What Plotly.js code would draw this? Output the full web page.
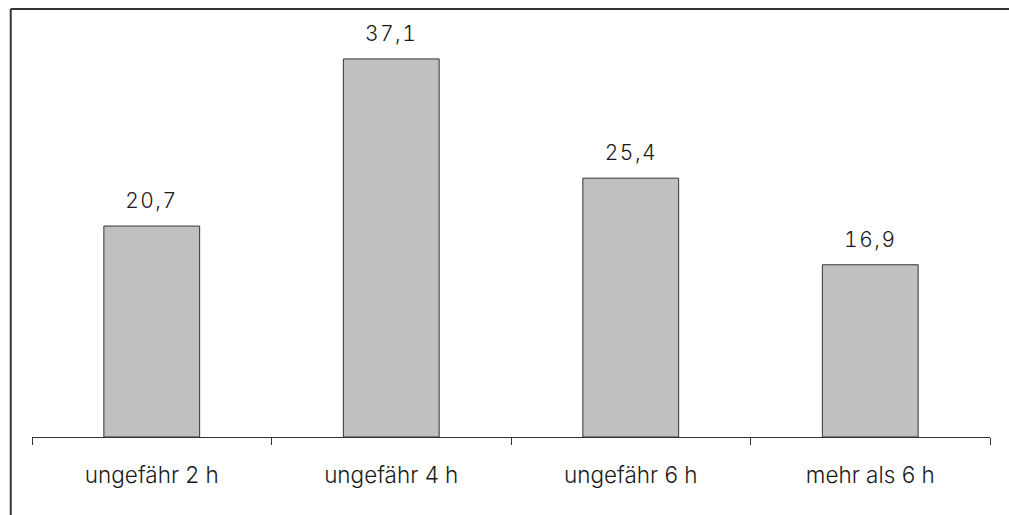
<!DOCTYPE html>
<html>
<head>
<meta charset="utf-8">
<script src="https://cdn.plot.ly/plotly-3.0.1.min.js"></script>
<style>
html,body{margin:0;padding:0;background:#fff;}
#chart{width:1009px;height:515px;}
#chart .annotation-text{font-feature-settings:"tnum";letter-spacing:1.5px;}
</style>
</head>
<body>
<div id="chart"></div>
<script>
const categories = ["ungefähr 2 h", "ungefähr 4 h", "ungefähr 6 h", "mehr als 6 h"];
const values = [20.7, 37.1, 25.4, 16.9];
const valueLabels = ["20,7", "37,1", "25,4", "16,9"];

const FONT = "Inter, 'Liberation Sans', Arial, sans-serif";

const trace = {
  type: "bar",
  x: categories,
  y: values,
  marker: {color: "#c0c0c0", line: {color: "#333333", width: 1}},
  hoverinfo: "none"
};

const annotations = categories.map((c, i) => ({
  x: c, y: values[i], xref: "x", yref: "y",
  text: valueLabels[i], showarrow: false,
  yanchor: "bottom", yshift: 11,
  font: {family: FONT, size: 21, color: "#1a1a1a", weight: 300}
}));

const layout = {
  width: 1009, height: 515,
  margin: {l: 32, r: 19, t: 9, b: 78},
  paper_bgcolor: "#ffffff", plot_bgcolor: "#ffffff",
  bargap: 0.6,
  showlegend: false,
  font: {family: FONT, size: 21, color: "#1a1a1a", weight: 300},
  xaxis: {
    type: "category",
    showline: true, linecolor: "#333333", linewidth: 1,
    ticks: "outside", tickson: "boundaries", ticklen: 7, tickcolor: "#333333", tickwidth: 1,
    ticklabelstandoff: 18,
    showgrid: false, zeroline: false,
    tickfont: {family: FONT, size: 22.5, color: "#1a1a1a", weight: 300}
  },
  yaxis: {
    range: [0, 42], visible: false, showgrid: false, zeroline: false
  },
  annotations: annotations,
  shapes: [
    {type: "line", xref: "paper", yref: "paper", x0: -0.0222, x1: 1.03, y0: 1.0, y1: 1.0,
     line: {color: "#333333", width: 2}},
    {type: "line", xref: "paper", yref: "paper", x0: -0.0222, x1: -0.0222, y0: 1.0, y1: -0.2,
     line: {color: "#333333", width: 2}}
  ]
};

Plotly.newPlot("chart", [trace], layout, {staticPlot: true, displayModeBar: false});
</script>
</body>
</html>
